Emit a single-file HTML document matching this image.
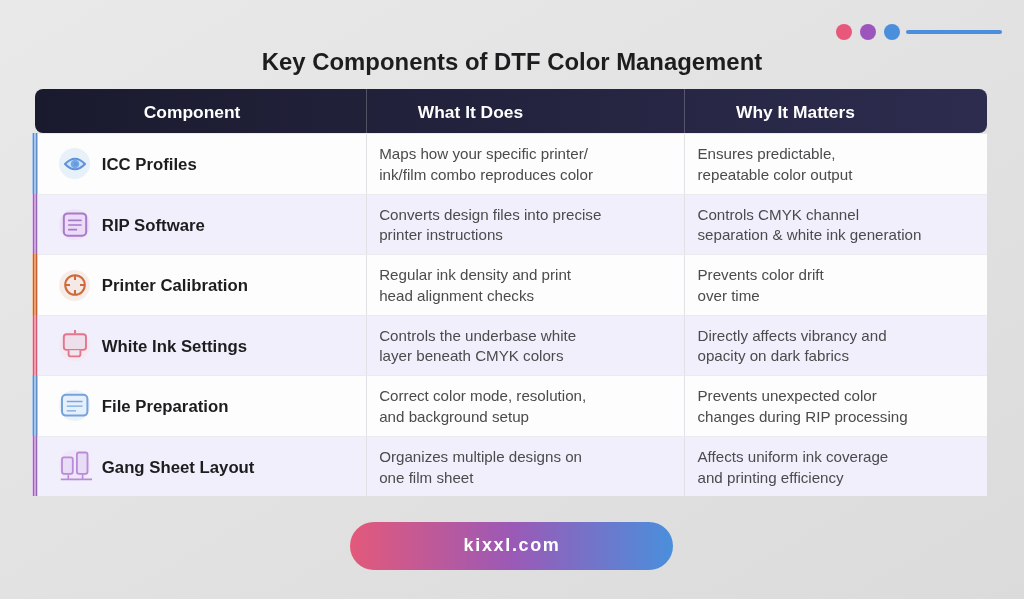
<!DOCTYPE html>
<html lang="en">
<head>
<meta charset="utf-8">
<title>Key Components of DTF Color Management</title>
<style>
*{box-sizing:border-box;margin:0;padding:0}
html,body{width:1024px;height:615px;overflow:hidden;background:#fff}
body{font-family:"Liberation Sans",Arial,Helvetica,sans-serif;position:relative}
#bg{position:absolute;left:0;top:0;width:1024px;height:599px;background:linear-gradient(to bottom right,#e9e9e9 0%,#dbdbdb 100%)}
.dot{position:absolute;width:16px;height:16px;border-radius:50%;top:23.7px}
#line{position:absolute;left:905.5px;top:29.7px;width:96.5px;height:4px;border-radius:2px;background:#4a8edc}
h1{position:absolute;left:0;width:1024px;top:47.5px;text-align:center;font-size:23.9px;line-height:28px;font-weight:bold;color:#1d1d1f;white-space:nowrap}
#head{position:absolute;left:35px;top:89px;width:952px;height:44px;border-radius:8px;background:linear-gradient(90deg,#1a1a2e 0%,#2d2c4f 100%);color:#fff;font-weight:bold;font-size:17.4px}
#head span{position:absolute;top:1.1px;height:44px;line-height:45px;white-space:nowrap}
#head i{position:absolute;top:0;height:44px;width:1px;background:rgba(255,255,255,.22)}
.row{position:absolute;left:38px;width:949px;background:#fdfdfd;border-top:1px solid #ebebef}
.row.alt{background:#f1effc}
.bar{position:absolute;left:32px;width:6px}
.vs{position:absolute;top:0;width:1px;height:100%;background:#e1e1e6}
.ic{position:absolute;left:59.2px;width:31px;height:31px;border-radius:50%}
svg.g{position:absolute;left:50px;width:50px;height:50px;overflow:visible}
.nm{position:absolute;left:101.8px;height:24px;line-height:24px;font-size:16.75px;font-weight:bold;color:#1d1d1f;white-space:nowrap}
.tx{position:absolute;font-size:15.15px;height:20px;line-height:20px;color:#4b4b4d;white-space:nowrap}
.c2{left:379.2px}.c3{left:697.5px}
#pill{position:absolute;left:350px;top:522.4px;width:322.5px;height:48px;border-radius:24px;background:linear-gradient(90deg,#e3597b 0%,#9b59b6 50%,#4a8fdc 100%);color:#fff;font-weight:bold;font-size:18px;line-height:46.4px;text-align:center;letter-spacing:1.65px;text-indent:1.65px}

</style>
</head>
<body>
<div id="bg"></div>
<div class="dot" style="left:836px;background:#e8587a"></div>
<div class="dot" style="left:860px;background:#9c55bd"></div>
<div class="dot" style="left:884px;background:#4a8edc"></div>
<div id="line"></div>
<h1>Key Components of DTF Color Management</h1>
<div id="head"><span style="left:108.8px">Component</span><i style="left:331px"></i><span style="left:382.8px">What It Does</span><i style="left:649px"></i><span style="left:701px">Why It Matters</span></div>
<div class="row" style="top:133.00px;height:60.53px"><div class="vs" style="left:328px"></div><div class="vs" style="left:646px"></div></div>
<div class="bar" style="top:133.00px;height:60.53px;background:linear-gradient(90deg,#a9caf0 0,#a9caf0 0.9px,#5f8ec6 0.9px,#5f8ec6 2.1px,#a9c4e6 2.1px,#a9c4e6 3.8px,#5f8ec6 3.8px,#5f8ec6 5px,#a9caf0 5px,#a9caf0 6px)"></div>
<div class="ic" style="top:148.36px;background:#e8f0fa"></div>
<svg class="g" style="top:138.86px" viewBox="0 0 50 50"><path d="M15 25 Q25 14.3 35 25 Q25 35.7 15 25 Z" fill="#cfe3fb" stroke="#5e93d8" stroke-width="2" stroke-linejoin="round"/><circle cx="25" cy="25" r="4.3" fill="#72a6e8"/><circle cx="25.6" cy="25" r="2" fill="#5e93d8" opacity=".6"/></svg>
<div class="nm" style="top:153px">ICC Profiles</div>
<div class="tx c2" style="top:144px">Maps how your specific printer/</div><div class="tx c2" style="top:165px">ink/film combo reproduces color</div>
<div class="tx c3" style="top:144px">Ensures predictable,</div><div class="tx c3" style="top:165px">repeatable color output</div>
<div class="row alt" style="top:193.53px;height:60.53px"><div class="vs" style="left:328px"></div><div class="vs" style="left:646px"></div></div>
<div class="bar" style="top:193.53px;height:60.53px;background:linear-gradient(90deg,#e3c6f2 0,#e3c6f2 0.9px,#9465b2 0.9px,#9465b2 2.1px,#cfa6dc 2.1px,#cfa6dc 3.8px,#9465b2 3.8px,#9465b2 5px,#e3c6f2 5px,#e3c6f2 6px)"></div>
<div class="ic" style="top:209.30px;background:#efe3f9"></div>
<svg class="g" style="top:199.80px" viewBox="0 0 50 50"><rect x="13.8" y="13.4" width="22.4" height="22.4" rx="4" fill="#ecdcfa" stroke="#a67bc8" stroke-width="2"/><path d="M18.8 20.4H31M18.8 25H31M18.8 29.7H26.4" stroke="#a67bc8" stroke-width="1.7" stroke-linecap="round" fill="none"/></svg>
<div class="nm" style="top:214px">RIP Software</div>
<div class="tx c2" style="top:205px">Converts design files into precise</div><div class="tx c2" style="top:225px">printer instructions</div>
<div class="tx c3" style="top:205px">Controls CMYK channel</div><div class="tx c3" style="top:225px">separation &amp; white ink generation</div>
<div class="row" style="top:254.06px;height:60.53px"><div class="vs" style="left:328px"></div><div class="vs" style="left:646px"></div></div>
<div class="bar" style="top:254.06px;height:60.53px;background:linear-gradient(90deg,#f3c3a4 0,#f3c3a4 0.9px,#c4602c 0.9px,#c4602c 2.1px,#e8a27a 2.1px,#e8a27a 3.8px,#c4602c 3.8px,#c4602c 5px,#f3c3a4 5px,#f3c3a4 6px)"></div>
<div class="ic" style="top:269.82px;background:#f6ede9"></div>
<svg class="g" style="top:260.32px" viewBox="0 0 50 50"><circle cx="25" cy="25" r="9.8" fill="#f4e9e5" stroke="#cf6a3a" stroke-width="2"/><path d="M25 15.2V20M25 30V34.8M15.2 25H20M30 25H34.8" stroke="#cf6a3a" stroke-width="2" fill="none"/></svg>
<div class="nm" style="top:274px">Printer Calibration</div>
<div class="tx c2" style="top:265px">Regular ink density and print</div><div class="tx c2" style="top:286px">head alignment checks</div>
<div class="tx c3" style="top:265px">Prevents color drift</div><div class="tx c3" style="top:286px">over time</div>
<div class="row alt" style="top:314.59px;height:60.53px"><div class="vs" style="left:328px"></div><div class="vs" style="left:646px"></div></div>
<div class="bar" style="top:314.59px;height:60.53px;background:linear-gradient(90deg,#f6c0cc 0,#f6c0cc 0.9px,#cf5a74 0.9px,#cf5a74 2.1px,#eca0b0 2.1px,#eca0b0 3.8px,#cf5a74 3.8px,#cf5a74 5px,#f6c0cc 5px,#f6c0cc 6px)"></div>
<div class="ic" style="top:329.66px;background:#f4e8f2"></div>
<svg class="g" style="top:320.16px" viewBox="0 0 50 50"><path d="M25 9.9V13.5" stroke="#dc6c86" stroke-width="1.8" fill="none"/><rect x="13.8" y="14.3" width="22.2" height="15.6" rx="2.8" fill="#eee0ea" stroke="#e2768f" stroke-width="1.9"/><path d="M18.6 30.3V34.2Q18.6 36.4 20.8 36.4H28.2Q30.4 36.4 30.4 34.2V30.3" fill="#f3e4ee" stroke="#e2768f" stroke-width="1.9"/></svg>
<div class="nm" style="top:335px">White Ink Settings</div>
<div class="tx c2" style="top:326px">Controls the underbase white</div><div class="tx c2" style="top:346px">layer beneath CMYK colors</div>
<div class="tx c3" style="top:326px">Directly affects vibrancy and</div><div class="tx c3" style="top:346px">opacity on dark fabrics</div>
<div class="row" style="top:375.12px;height:60.53px"><div class="vs" style="left:328px"></div><div class="vs" style="left:646px"></div></div>
<div class="bar" style="top:375.12px;height:60.53px;background:linear-gradient(90deg,#a9caf0 0,#a9caf0 0.9px,#5f8ec6 0.9px,#5f8ec6 2.1px,#a9c4e6 2.1px,#a9c4e6 3.8px,#5f8ec6 3.8px,#5f8ec6 5px,#a9caf0 5px,#a9caf0 6px)"></div>
<div class="ic" style="top:389.69px;background:#ecf2fb"></div>
<svg class="g" style="top:380.19px" viewBox="0 0 50 50"><rect x="12" y="14.8" width="25.4" height="20.8" rx="4" fill="#e6f0fc" stroke="#76a2dc" stroke-width="2"/><path d="M16.8 21.5H32.5M16.8 26.2H32.5M16.8 30.9H26" stroke="#7aa5de" stroke-width="1.3" fill="none"/></svg>
<div class="nm" style="top:395px">File Preparation</div>
<div class="tx c2" style="top:386px">Correct color mode, resolution,</div><div class="tx c2" style="top:407px">and background setup</div>
<div class="tx c3" style="top:386px">Prevents unexpected color</div><div class="tx c3" style="top:407px">changes during RIP processing</div>
<div class="row alt" style="top:435.65px;height:60.53px"><div class="vs" style="left:328px"></div><div class="vs" style="left:646px"></div></div>
<div class="bar" style="top:435.65px;height:60.53px;background:linear-gradient(90deg,#e3c6f2 0,#e3c6f2 0.9px,#9465b2 0.9px,#9465b2 2.1px,#cfa6dc 2.1px,#cfa6dc 3.8px,#9465b2 3.8px,#9465b2 5px,#e3c6f2 5px,#e3c6f2 6px)"></div>
<div class="ic" style="top:450.21px;background:#efe6f9"></div>
<svg class="g" style="top:440.71px" viewBox="0 0 50 50"><rect x="12" y="16.4" width="10.8" height="16.4" rx="2" fill="#e8dcf6" stroke="#b98bd8" stroke-width="1.8"/><rect x="26.9" y="11.5" width="10.6" height="21.3" rx="2" fill="#e8dcf6" stroke="#b98bd8" stroke-width="1.8"/><path d="M18.3 33.5V38M32.6 33.5V38M10.8 38.4H42" stroke="#b98bd8" stroke-width="1.6" fill="none"/></svg>
<div class="nm" style="top:456px">Gang Sheet Layout</div>
<div class="tx c2" style="top:447px">Organizes multiple designs on</div><div class="tx c2" style="top:468px">one film sheet</div>
<div class="tx c3" style="top:447px">Affects uniform ink coverage</div><div class="tx c3" style="top:468px">and printing efficiency</div>
<div id="pill">kixxl.com</div>
</body>
</html>
